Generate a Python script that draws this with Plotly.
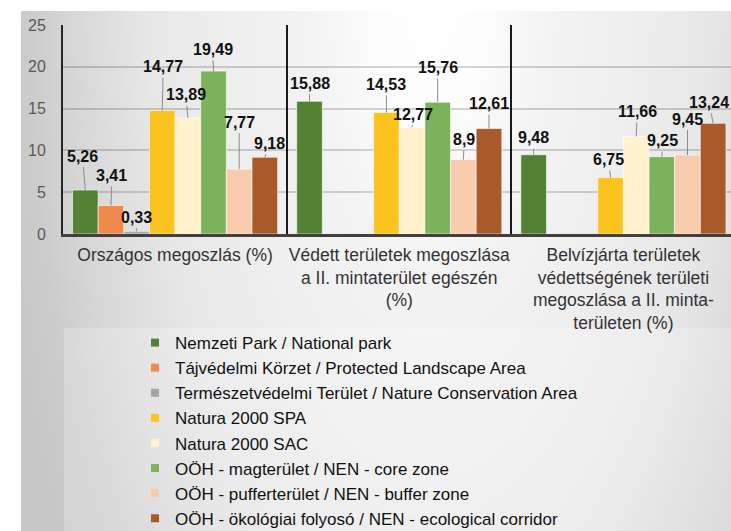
import base64
import plotly.graph_objects as go

# ---------------- data ----------------
categories = [
    "Országos megoszlás (%)",
    "Védett területek megoszlása<br>a II. mintaterület egészén<br>(%)",
    "Belvízjárta területek<br>védettségének területi<br>megoszlása a II. minta-<br>területen (%)",
]
series_names = [
    "Nemzeti Park / National park",
    "Tájvédelmi Körzet / Protected Landscape Area",
    "Természetvédelmi Terület / Nature Conservation Area",
    "Natura 2000 SPA",
    "Natura 2000 SAC",
    "OÖH - magterület / NEN - core zone",
    "OÖH - pufferterület / NEN - buffer zone",
    "OÖH - ökológiai folyosó / NEN - ecological corridor",
]
nemzeti_park = [5.26, 15.88, 9.48]
tajvedelmi_korzet = [3.41, None, None]
termeszetvedelmi_terulet = [0.33, None, None]
natura_spa = [14.77, 14.53, 6.75]
natura_sac = [13.89, 12.77, 11.66]
ooh_mag = [19.49, 15.76, 9.25]
ooh_puffer = [7.77, 8.9, 9.45]
ooh_okologiai = [9.18, 12.61, 13.24]
y_tick_values = [0, 5, 10, 15, 20, 25]

series_values = [nemzeti_park, tajvedelmi_korzet, termeszetvedelmi_terulet, natura_spa,
                 natura_sac, ooh_mag, ooh_puffer, ooh_okologiai]

# ---------------- style ----------------
colors = ["#548235", "#EE8A4E", "#A5A5A5", "#FBC31E", "#FFF2CC", "#7CB35A", "#F8CBAD", "#A85A2A"]
# label offsets (pixels) of each data label relative to its bar top: (dx, dy)
label_offsets = [
    [(-3, -34), (0, -18), (0, -17)],
    [(1, -30), None, None],
    [(0, -14), None, None],
    [(1, -44), (0, -28), (-2, -18)],
    [(-2, -23), (1, -13), (1, -25)],
    [(-1, -22), (0, -35), (1, -16)],
    [(0, -47), (1, -20), (0, -36)],
    [(5, -14), (0, -25), (-4, -21)],
]
FONT = "Liberation Sans, Arial, sans-serif"
W, H = 731, 531
L, R, T, B = 63, 731, 25, 234
BARGAP = 0.085


def px_x(px):
    return (px - L) / (R - L)


def px_y(py):
    return (B - py) / (B - T)


# background gradient (svg)
cx, cy = 430 - 21, 0 - 11
stops = [(0, 255), (0.12, 253), (0.3, 243), (0.5, 238), (0.7, 231), (0.9, 214), (1.0, 204), (1.1, 198)]
stop_xml = "".join(
    f'<stop offset="{d/1.1:.4f}" stop-color="rgb({g},{g},{g})"/>' for d, g in stops)
svg = (
    '<svg xmlns="http://www.w3.org/2000/svg" width="710" height="520" viewBox="0 0 710 520" preserveAspectRatio="none">'
    f'<defs><radialGradient id="g" gradientUnits="userSpaceOnUse" cx="0" cy="0" r="1" '
    f'gradientTransform="translate({cx},{cy}) scale(440,990)">{stop_xml}</radialGradient></defs>'
    '<rect x="0" y="0" width="710" height="520" fill="url(#g)"/></svg>'
)
svg_uri = "data:image/svg+xml;base64," + base64.b64encode(svg.encode()).decode()

fig = go.Figure()
x_idx = list(range(len(categories)))
for name, vals, col in zip(series_names, series_values, colors):
    fig.add_trace(go.Bar(
        x=x_idx, y=vals, name=name, legendgroup=name, showlegend=False,
        marker=dict(color=col, line=dict(color="rgba(255,255,255,0.6)", width=1)),
        hoverinfo="skip",
    ))
# legend entries with small square keys
for name, col in zip(series_names, colors):
    fig.add_trace(go.Scatter(
        x=[None], y=[None], mode="markers", name=name, legendgroup=name,
        marker=dict(symbol="square", size=8, color=col), hoverinfo="skip",
    ))

n = len(series_values)
w = (1 - BARGAP) / n
annotations = []
for i, (vals, offs) in enumerate(zip(series_values, label_offsets)):
    for c, v in enumerate(vals):
        if v is None:
            continue
        dx, dy = offs[c]
        annotations.append(dict(
            x=c + (i - (n - 1) / 2) * w, y=v, xref="x", yref="y",
            text=f"<b>{str(v).replace('.', ',')}</b>",
            showarrow=True, arrowhead=0, arrowwidth=1, arrowcolor="#8c8c8c",
            ax=dx, ay=dy, standoff=0, startstandoff=1,
            font=dict(family=FONT, size=16, color="#111111"),
        ))

fig.update_layout(
    width=W, height=H,
    margin=dict(l=L, r=W - R, t=T, b=H - B, pad=0, autoexpand=False),
    paper_bgcolor="white",
    plot_bgcolor="rgba(0,0,0,0)",
    barmode="group", bargap=BARGAP, bargroupgap=0,
    annotations=annotations,
    font=dict(family=FONT),
    images=[dict(
        source=svg_uri, xref="paper", yref="paper",
        x=px_x(21), y=px_y(11), sizex=(W - 21) / (R - L), sizey=(H - 11) / (B - T),
        xanchor="left", yanchor="top", sizing="stretch", layer="below",
    )],
    shapes=[dict(
        type="rect", xref="paper", yref="paper", layer="below",
        x0=px_x(64), x1=px_x(W + 5), y0=px_y(H + 5), y1=px_y(328),
        fillcolor="rgba(255,255,255,0.22)", line=dict(width=0),
    )],
    legend=dict(
        x=px_x(135), y=px_y(325), xanchor="left", yanchor="top",
        orientation="v", bgcolor="rgba(0,0,0,0)",
        font=dict(family=FONT, size=17, color="#111111"),
        tracegroupgap=0, itemwidth=30,
    ),
    showlegend=True,
)
fig.update_xaxes(
    range=[-0.5, 2.48], tickmode="array", tickvals=x_idx, ticktext=categories,
    tickfont=dict(family=FONT, size=17.5, color="#333333"),
    showgrid=False, zeroline=False, ticks="", ticklabelstandoff=3,
    showline=True, linecolor="#404040", linewidth=2.5,
    minor=dict(tickmode="array", tickvals=[k - 0.5 for k in range(len(categories) + 1)],
               showgrid=True, gridcolor="#1a1a1a", gridwidth=1.5, ticks=""),
    fixedrange=True,
)
fig.update_yaxes(
    range=[0, 25], tickmode="array", tickvals=y_tick_values,
    tickfont=dict(family=FONT, size=16, color="#595959"),
    showgrid=True, gridcolor="rgba(0,0,0,0.16)", gridwidth=1.5,
    zeroline=False, ticks="", ticklabelstandoff=12,
    showline=True, linecolor="#262626", linewidth=2,
    fixedrange=True,
)

fig.write_html("out.html", config={"displayModeBar": False},
               post_script="document.body.style.margin='0px';")
